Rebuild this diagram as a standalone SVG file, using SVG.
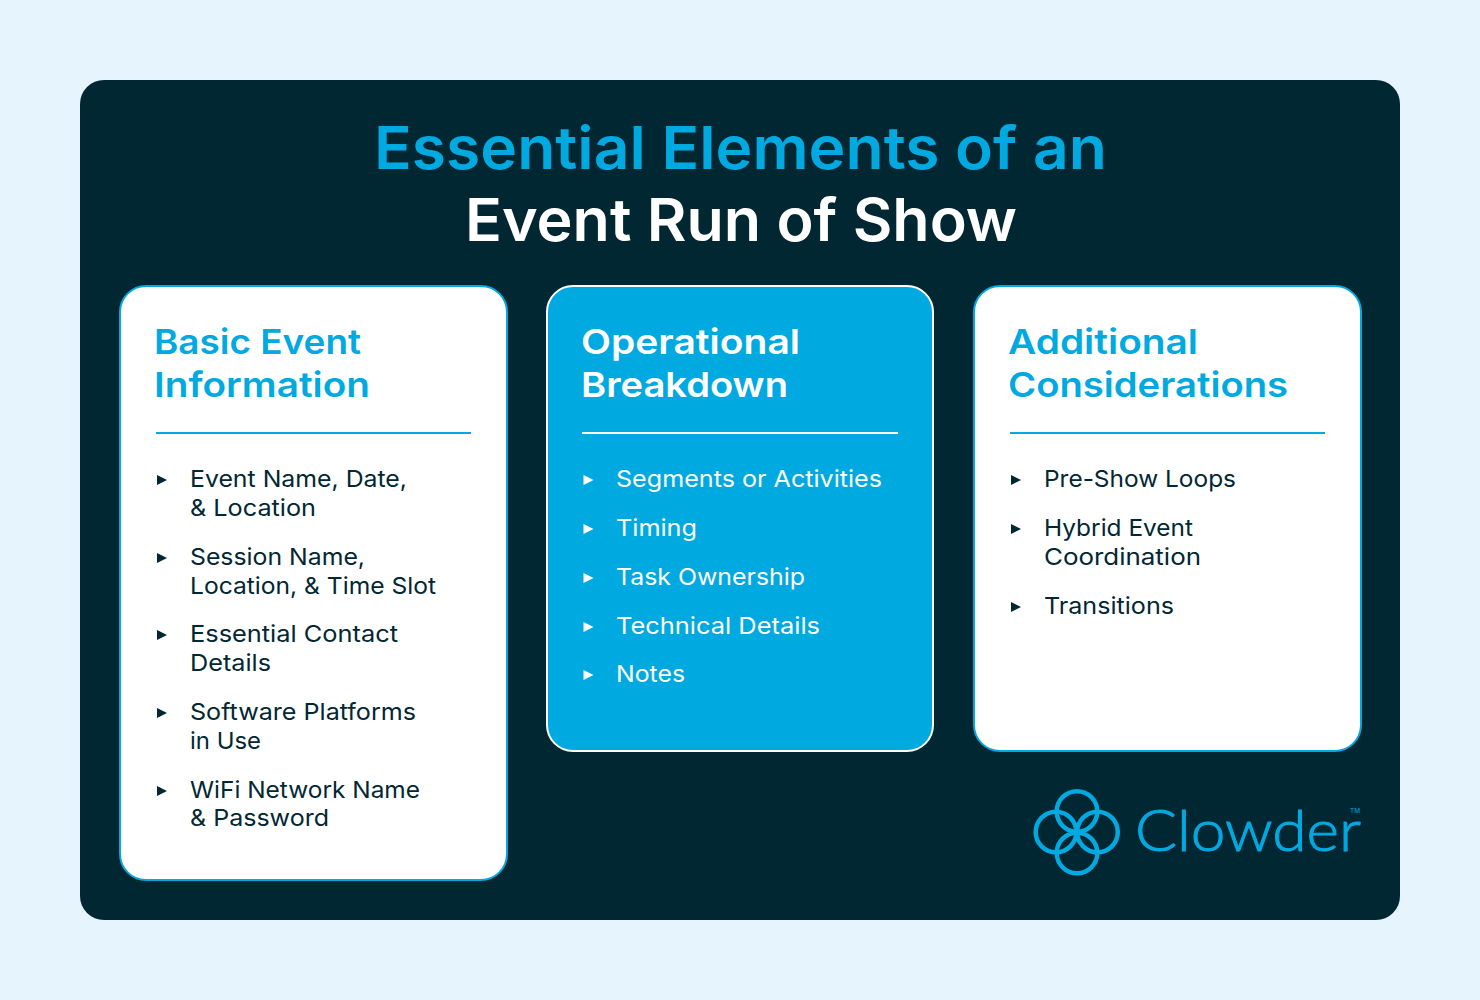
<svg xmlns="http://www.w3.org/2000/svg" width="1480" height="1000" viewBox="0 0 1480 1000">
<style>
text{font-family:"Inter","Liberation Sans",sans-serif}
.card{stroke:#00a9e0;stroke-width:2}
.t{font-size:59px;font-weight:620}
.h{font-size:34.5px;font-weight:600}
.li{font-size:23.5px;font-weight:400;fill:#012733}
.w .li{fill:#fff}
.rule{stroke:#00a9e0;stroke-width:2}
.bul{fill:#012733}
.w .bul{fill:#fff}
.w .rule{stroke:#fff}
.ring{fill:none;stroke:#00a9e0;stroke-width:4.5}
</style>
<rect width="1480" height="1000" fill="#e6f5fd"/>
<rect x="80" y="80" width="1320" height="840" rx="24" fill="#012733"/>
<g id="title">
<text class="t" x="374" y="169" fill="#00a9e0" textLength="733" lengthAdjust="spacingAndGlyphs">Essential Elements of an</text>
<text class="t" x="465" y="241" fill="#fff" textLength="552" lengthAdjust="spacingAndGlyphs">Event Run of Show</text>
</g>
<g id="card-basic">
<rect class="card" x="120" y="286" width="387" height="594" rx="26" fill="#fff"/>
<text class="h" x="154" y="354" fill="#00a9e0" textLength="207" lengthAdjust="spacingAndGlyphs">Basic Event</text>
<text class="h" x="154" y="397" fill="#00a9e0" textLength="216" lengthAdjust="spacingAndGlyphs">Information</text>
<line class="rule" x1="156" y1="433" x2="471" y2="433"/>
<path class="bul" d="M157 475l10 5-10 5z"/>
<text class="li" x="190" y="487" textLength="217" lengthAdjust="spacingAndGlyphs">Event Name, Date,</text>
<text class="li" x="190" y="516" textLength="126" lengthAdjust="spacingAndGlyphs">&amp; Location</text>
<path class="bul" d="M157 553l10 5-10 5z"/>
<text class="li" x="190" y="565" textLength="175" lengthAdjust="spacingAndGlyphs">Session Name,</text>
<text class="li" x="190" y="594" textLength="246" lengthAdjust="spacingAndGlyphs">Location, &amp; Time Slot</text>
<path class="bul" d="M157 630l10 5-10 5z"/>
<text class="li" x="190" y="642" textLength="208" lengthAdjust="spacingAndGlyphs">Essential Contact</text>
<text class="li" x="190" y="671" textLength="81" lengthAdjust="spacingAndGlyphs">Details</text>
<path class="bul" d="M157 708l10 5-10 5z"/>
<text class="li" x="190" y="720" textLength="226" lengthAdjust="spacingAndGlyphs">Software Platforms</text>
<text class="li" x="190" y="749" textLength="71" lengthAdjust="spacingAndGlyphs">in Use</text>
<path class="bul" d="M157 786l10 5-10 5z"/>
<text class="li" x="190" y="798" textLength="230" lengthAdjust="spacingAndGlyphs">WiFi Network Name</text>
<text class="li" x="190" y="826" textLength="139" lengthAdjust="spacingAndGlyphs">&amp; Password</text>
</g>
<g id="card-operational" class="w">
<rect x="547" y="286" width="386" height="465" rx="26" fill="#00a9e0" stroke="#fff" stroke-width="2"/>
<text class="h" x="581" y="354" fill="#fff" textLength="219" lengthAdjust="spacingAndGlyphs">Operational</text>
<text class="h" x="581" y="397" fill="#fff" textLength="207" lengthAdjust="spacingAndGlyphs">Breakdown</text>
<line class="rule" x1="582" y1="433" x2="898" y2="433"/>
<path class="bul" d="M583.500 475l10 5-10 5z"/>
<text class="li" x="616" y="487" textLength="266" lengthAdjust="spacingAndGlyphs">Segments or Activities</text>
<path class="bul" d="M583.500 524l10 5-10 5z"/>
<text class="li" x="616" y="536" textLength="81" lengthAdjust="spacingAndGlyphs">Timing</text>
<path class="bul" d="M583.500 573l10 5-10 5z"/>
<text class="li" x="616" y="585" textLength="189" lengthAdjust="spacingAndGlyphs">Task Ownership</text>
<path class="bul" d="M583.500 622l10 5-10 5z"/>
<text class="li" x="616" y="634" textLength="204" lengthAdjust="spacingAndGlyphs">Technical Details</text>
<path class="bul" d="M583.500 670l10 5-10 5z"/>
<text class="li" x="616" y="682" textLength="69" lengthAdjust="spacingAndGlyphs">Notes</text>
</g>
<g id="card-additional">
<rect class="card" x="974" y="286" width="387" height="465" rx="26" fill="#fff"/>
<text class="h" x="1008" y="354" fill="#00a9e0" textLength="190" lengthAdjust="spacingAndGlyphs">Additional</text>
<text class="h" x="1008" y="397" fill="#00a9e0" textLength="280" lengthAdjust="spacingAndGlyphs">Considerations</text>
<line class="rule" x1="1010" y1="433" x2="1325" y2="433"/>
<path class="bul" d="M1011 475l10 5-10 5z"/>
<text class="li" x="1044" y="487" textLength="192" lengthAdjust="spacingAndGlyphs">Pre-Show Loops</text>
<path class="bul" d="M1011 524l10 5-10 5z"/>
<text class="li" x="1044" y="536" textLength="149" lengthAdjust="spacingAndGlyphs">Hybrid Event</text>
<text class="li" x="1044" y="565" textLength="157" lengthAdjust="spacingAndGlyphs">Coordination</text>
<path class="bul" d="M1011 602l10 5-10 5z"/>
<text class="li" x="1044" y="614" textLength="130" lengthAdjust="spacingAndGlyphs">Transitions</text>
</g>
<g id="logo">
<circle class="ring" cx="1077" cy="811.500" r="20.300"/>
<circle class="ring" cx="1056" cy="832" r="20.300"/>
<circle class="ring" cx="1097.500" cy="832" r="20.300"/>
<circle class="ring" cx="1077" cy="853" r="20.300"/>
<text x="1135" y="851" font-size="58" style="font-family:Lato,'Liberation Sans',sans-serif;font-weight:300" fill="#00a9e0" stroke="#00a9e0" stroke-width="1" textLength="226" lengthAdjust="spacingAndGlyphs">Clowder</text>
<text x="1350" y="813" font-size="6" fill="#00a9e0" textLength="10" lengthAdjust="spacingAndGlyphs">TM</text>
</g>
</svg>
